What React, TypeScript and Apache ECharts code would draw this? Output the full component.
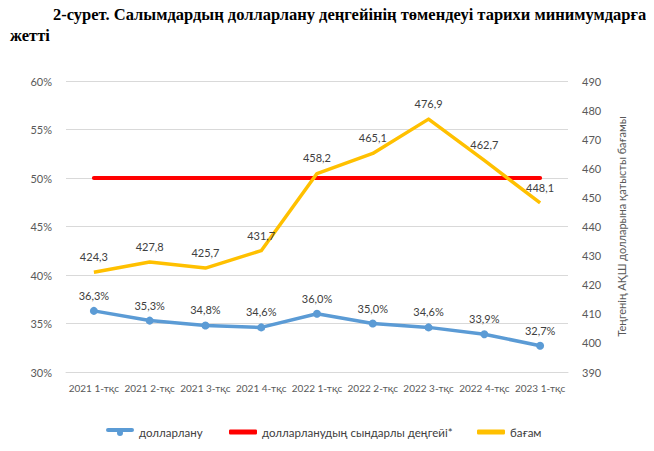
import React, { useEffect, useRef } from "react";
import * as echarts from "echarts";

const categories = [
  "2021 1-тқс", "2021 2-тқс", "2021 3-тқс", "2021 4-тқс",
  "2022 1-тқс", "2022 2-тқс", "2022 3-тқс", "2022 4-тқс", "2023 1-тқс",
];
const dollarization = [36.3, 35.3, 34.8, 34.6, 36.0, 35.0, 34.6, 33.9, 32.7];
const criticalLevel = [50, 50, 50, 50, 50, 50, 50, 50, 50];
const exchangeRate = [424.3, 427.8, 425.7, 431.7, 458.2, 465.1, 476.9, 462.7, 448.1];

const titleLine1 = "2-сурет. Салымдардың долларлану деңгейінің төмендеуі тарихи минимумдарға";
const titleLine2 = "жетті";
const rightAxisName = "Теңгенің АҚШ долларына қатысты бағамы";
const seriesNames = ["долларлану", "долларланудың сындарлы деңгейі*", "бағам"];

const FONT = "Lato";
const SERIF = "'Liberation Serif', 'Times New Roman', 'DejaVu Serif', serif";
const fmt1 = (v: number) => v.toFixed(1).replace(".", ",");

export default function App() {
  const ref = useRef<HTMLDivElement>(null);
  useEffect(() => {
    if (!ref.current) return;
    const chart = echarts.init(ref.current, undefined, { renderer: "svg" });
    const legendCommon = {
      bottom: 13,
      padding: 0,
      itemWidth: 28,
      itemHeight: 5,
      itemGap: 0,
      textStyle: { fontFamily: FONT, fontSize: 11.5, color: "#404040" },
    };
    chart.setOption({
      animation: false,
      backgroundColor: "#ffffff",
      graphic: [
        {
          type: "text",
          left: 53,
          top: 6,
          style: { text: titleLine1, font: "bold 16.5px " + SERIF, fill: "#000" },
        },
        {
          type: "text",
          left: 10,
          top: 27,
          style: { text: titleLine2, font: "bold 16.5px " + SERIF, fill: "#000" },
        },
      ],
      legend: [
        {
          ...legendCommon,
          left: 106,
          itemHeight: 9,
          icon: "path://M2,2H26A2,2 0 0 1 26,6H2A2,2 0 0 1 2,2Z M14,4A3,3 0 1,1 14,10A3,3 0 1,1 14,4Z",
          data: [seriesNames[0]],
        },
        { ...legendCommon, left: 229, icon: "roundRect", data: [seriesNames[1]] },
        { ...legendCommon, left: 477, icon: "roundRect", data: [seriesNames[2]] },
      ],
      grid: { left: 66, right: 86, top: 81, bottom: 79 },
      xAxis: {
        type: "category",
        data: categories,
        boundaryGap: true,
        axisLine: { show: true, lineStyle: { color: "#d9d9d9" } },
        axisTick: { show: false },
        axisLabel: { color: "#595959", fontSize: 10, fontFamily: FONT, margin: 11, interval: 0 },
      },
      yAxis: [
        {
          type: "value",
          min: 30,
          max: 60,
          interval: 5,
          axisLine: { show: false },
          axisTick: { show: false },
          splitLine: { lineStyle: { color: "#d9d9d9" } },
          axisLabel: { color: "#595959", fontSize: 11, fontFamily: FONT, formatter: "{value}%", margin: 14 },
        },
        {
          type: "value",
          min: 390,
          max: 490,
          interval: 10,
          axisLine: { show: false },
          axisTick: { show: false },
          splitLine: { show: false },
          axisLabel: { color: "#595959", fontSize: 11, fontFamily: FONT, margin: 14 },
          name: rightAxisName,
          nameLocation: "middle",
          nameRotate: 90,
          nameGap: 48,
          nameTextStyle: { color: "#595959", fontSize: 11, fontFamily: FONT },
        },
      ],
      series: [
        {
          name: seriesNames[0],
          type: "line",
          data: dollarization,
          yAxisIndex: 0,
          symbol: "circle",
          symbolSize: 8,
          lineStyle: { color: "#5b9bd5", width: 3.5 },
          itemStyle: { color: "#5b9bd5" },
          label: {
            show: true,
            position: "top",
            distance: 6,
            color: "#404040",
            fontSize: 11,
            fontFamily: FONT,
            formatter: (p: any) => fmt1(p.value) + "%",
          },
          z: 3,
        },
        {
          name: seriesNames[1],
          type: "line",
          data: criticalLevel,
          yAxisIndex: 0,
          symbol: "none",
          lineStyle: { color: "#ff0000", width: 4, cap: "round" },
          itemStyle: { color: "#ff0000" },
          z: 2,
        },
        {
          name: seriesNames[2],
          type: "line",
          data: exchangeRate,
          yAxisIndex: 1,
          symbol: "circle",
          symbolSize: 0.1,
          showSymbol: true,
          lineStyle: { color: "#ffc000", width: 3.5, join: "round" },
          itemStyle: { color: "#ffc000" },
          label: {
            show: true,
            position: "top",
            distance: 10,
            color: "#404040",
            fontSize: 11,
            fontFamily: FONT,
            formatter: (p: any) => fmt1(p.value),
          },
          labelLayout: { hideOverlap: false },
          z: 4,
        },
      ],
    });
    return () => chart.dispose();
  }, []);
  return <div ref={ref} style={{ width: 654, height: 451, margin: -8 }} />;
}
